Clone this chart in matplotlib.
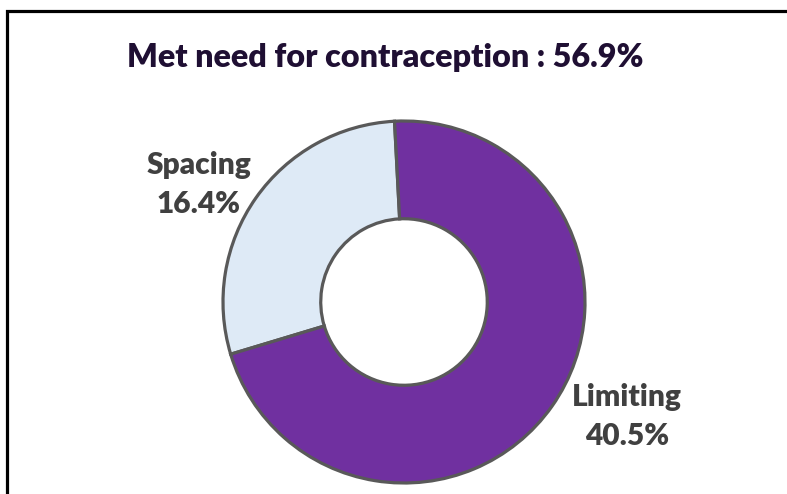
import matplotlib

matplotlib.use("Agg")

import matplotlib.pyplot as plt
from matplotlib.lines import Line2D

# data
categories = ["Spacing", "Limiting"]
shares = [16.4, 40.5]
colors = ["#DEEAF6", "#7030A0"]
total_met = 56.9

W, H = 787, 494
fig = plt.figure(figsize=(W / 100, H / 100), dpi=100)
fig.patch.set_facecolor("white")

plt.rcParams["font.family"] = ["Lato", "DejaVu Sans"]


def px(x, y):
    # pixel coords (origin top-left) -> figure fraction
    return x / W, 1 - y / H


# donut centred at (404, 302) px, outer radius 181 px
cx, cy, r = 404, 302, 181
ax = fig.add_axes([(cx - r) / W, (H - cy - r) / H, 2 * r / W, 2 * r / H])
ax.pie(
    shares,
    colors=colors,
    startangle=93,
    counterclock=True,
    radius=1.0,
    wedgeprops=dict(width=0.54, edgecolor="#595959", linewidth=2.3),
)
ax.set_xlim(-1, 1)
ax.set_ylim(-1, 1)
ax.set_aspect("equal")
ax.axis("off")
for p in ax.patches:
    p.set_clip_on(False)

# title
fig.text(*px(385, 67), f"Met need for contraception : {total_met}%",
         ha="center", va="baseline", fontsize=23.2, fontweight="heavy",
         color="#1F0F33")

# slice labels
label_pos = [(199, 174, 213), (627, 406, 445)]
for name, val, (lx, y1, y2) in zip(categories, shares, label_pos):
    fig.text(*px(lx, y1), name, ha="center", va="baseline",
             fontsize=21.5, fontweight="heavy", color="#404040")
    fig.text(*px(lx, y2), f"{val}%", ha="center", va="baseline",
             fontsize=21.5, fontweight="heavy", color="#404040")

# chart frame (only top and left edges fall inside the image)
fig.add_artist(Line2D([6.5 / W, 6.5 / W, 1.01], [-0.01, 1 - 11.5 / H, 1 - 11.5 / H],
                      transform=fig.transFigure, color="black", linewidth=2.3,
                      solid_joinstyle="miter"))

fig.savefig("out.png", dpi=100)
